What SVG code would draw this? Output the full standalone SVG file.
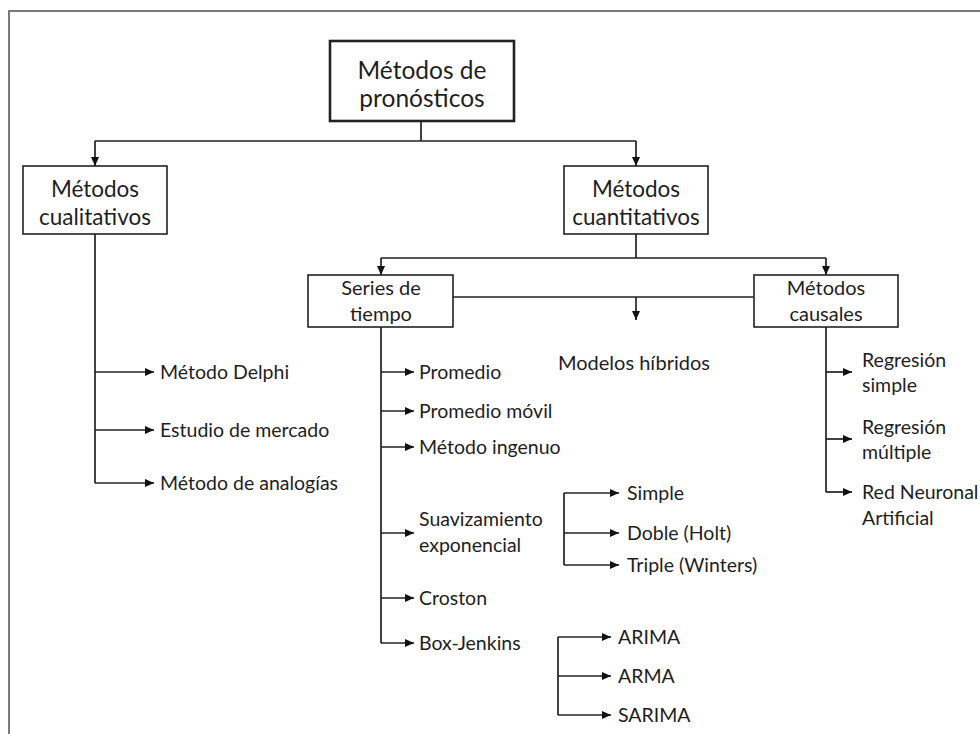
<svg xmlns="http://www.w3.org/2000/svg" width="980" height="734" viewBox="0 0 980 734">
<style>
.frame{fill:none;stroke:#7a7a7a;stroke-width:2}
.box{fill:#fff;stroke:#222;stroke-width:1.6}
.root{fill:#fff;stroke:#222;stroke-width:2.6}
.ln{fill:none;stroke:#222;stroke-width:1.7}
.ar{fill:none;stroke:#222;stroke-width:1.7;marker-end:url(#ah)}
text{font-family:Lato,"Open Sans","Liberation Sans",sans-serif;fill:#1e1e1e}
.t1{font-size:24.5px;text-anchor:middle}
.t2{font-size:22.5px;text-anchor:middle}
.t3{font-size:20px;text-anchor:middle}
.lf{font-size:19.5px}
</style>
<defs>
<marker id="ah" markerUnits="userSpaceOnUse" markerWidth="10" markerHeight="9" refX="9" refY="4" orient="auto">
<path d="M0,0 L9,4 L0,8 z" fill="#111"/>
</marker>
</defs>
<rect width="980" height="734" fill="#fff"/>
<path class="frame" d="M9,745 V11 H990"/>
<g id="connectors">
<path class="ln" d="M421,121 V141 M95,141 H636"/>
<path class="ar" d="M95,141 V166"/>
<path class="ar" d="M636,141 V166"/>
<path class="ln" d="M636,234 V258 M381,258 H826"/>
<path class="ar" d="M381,258 V275"/>
<path class="ar" d="M826,258 V275"/>
<path class="ln" d="M453,297 H754"/>
<path class="ar" d="M636,297 V320"/>
<path class="ln" d="M95,234 V483"/>
<path class="ar" d="M95,372 H154"/>
<path class="ar" d="M95,430 H154"/>
<path class="ar" d="M95,483 H154"/>
<path class="ln" d="M381,327 V643"/>
<path class="ar" d="M381,372 H414"/>
<path class="ar" d="M381,411 H414"/>
<path class="ar" d="M381,447 H414"/>
<path class="ar" d="M381,533 H414"/>
<path class="ar" d="M381,598 H414"/>
<path class="ar" d="M381,643 H414"/>
<path class="ln" d="M564,493 V565"/>
<path class="ar" d="M564,493 H619"/>
<path class="ar" d="M564,533 H619"/>
<path class="ar" d="M564,565 H619"/>
<path class="ln" d="M558,637 V715"/>
<path class="ar" d="M558,637 H611"/>
<path class="ar" d="M558,676 H611"/>
<path class="ar" d="M558,715 H611"/>
<path class="ln" d="M826,327 V492"/>
<path class="ar" d="M826,372 H852"/>
<path class="ar" d="M826,439 H852"/>
<path class="ar" d="M826,492 H852"/>
</g>
<g id="root"><rect class="root" x="330" y="41" width="184" height="80"/><text class="t1" x="422" y="79">Métodos de</text><text class="t1" x="422" y="107">pronósticos</text></g>
<g id="cualitativos"><rect class="box" x="23" y="166" width="144" height="68"/><text class="t2" x="95" y="197">Métodos</text><text class="t2" x="95" y="225">cualitativos</text></g>
<g id="cuantitativos"><rect class="box" x="564" y="166" width="144" height="68"/><text class="t2" x="636" y="197">Métodos</text><text class="t2" x="636" y="225">cuantitativos</text></g>
<g id="series"><rect class="box" x="308" y="275" width="145" height="52"/><text class="t3" x="381" y="295">Series de</text><text class="t3" x="381" y="321">tiempo</text></g>
<g id="causales"><rect class="box" x="754" y="275" width="144" height="52"/><text class="t3" x="826" y="295">Métodos</text><text class="t3" x="826" y="321">causales</text></g>
<g id="hibridos"><text class="t3" x="634" y="370">Modelos híbridos</text></g>
<g id="delphi"><text class="lf" x="160" y="379">Método Delphi</text></g>
<g id="mercado"><text class="lf" x="160" y="437">Estudio de mercado</text></g>
<g id="analogias"><text class="lf" x="160" y="490">Método de analogías</text></g>
<g id="promedio"><text class="lf" x="419" y="379">Promedio</text></g>
<g id="movil"><text class="lf" x="419" y="418">Promedio móvil</text></g>
<g id="ingenuo"><text class="lf" x="419" y="454">Método ingenuo</text></g>
<g id="suavizamiento"><text class="lf" x="419" y="526">Suavizamiento</text><text class="lf" x="419" y="552">exponencial</text></g>
<g id="croston"><text class="lf" x="419" y="605">Croston</text></g>
<g id="boxjenkins"><text class="lf" x="419" y="650">Box-Jenkins</text></g>
<g id="simple"><text class="lf" x="627" y="500">Simple</text></g>
<g id="doble"><text class="lf" x="627" y="540">Doble (Holt)</text></g>
<g id="triple"><text class="lf" x="627" y="572">Triple (Winters)</text></g>
<g id="arima"><text class="lf" x="618" y="644">ARIMA</text></g>
<g id="arma"><text class="lf" x="618" y="683">ARMA</text></g>
<g id="sarima"><text class="lf" x="618" y="722">SARIMA</text></g>
<g id="regsimple"><text class="lf" x="862" y="367">Regresión</text><text class="lf" x="862" y="392">simple</text></g>
<g id="regmultiple"><text class="lf" x="862" y="434">Regresión</text><text class="lf" x="862" y="459">múltiple</text></g>
<g id="rna"><text class="lf" x="862" y="499">Red Neuronal</text><text class="lf" x="862" y="525">Artificial</text></g>
</svg>
